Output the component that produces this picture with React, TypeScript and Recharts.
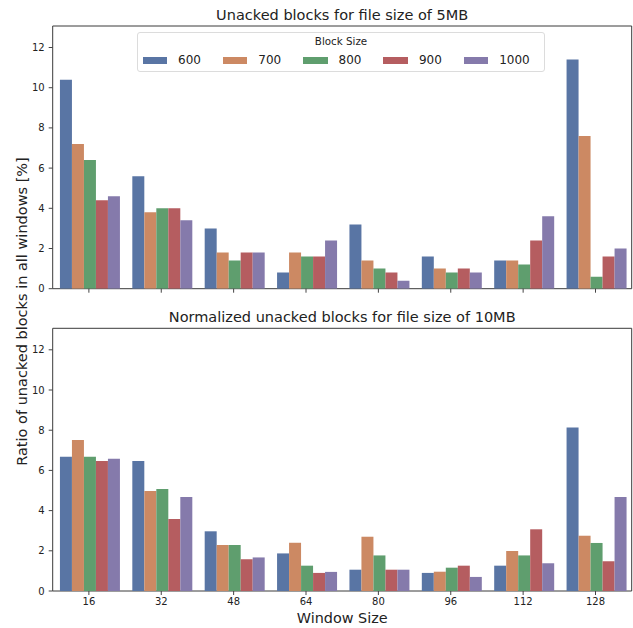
import { Bar, BarChart, Label, Legend, ReferenceArea, XAxis, YAxis } from "recharts";

const FONT = '"DejaVu Sans", sans-serif';

const windowSizes = [16, 32, 48, 64, 80, 96, 112, 128];
const blockSizes = ["600", "700", "800", "900", "1000"];
const colors = ["#5975a4", "#cc8963", "#5f9e6e", "#b55d60", "#857aab"];
const yTicks = [0, 2, 4, 6, 8, 10, 12];

// 5MB file
const unacked5MB_600 = [10.4, 5.6, 3.0, 0.8, 3.2, 1.6, 1.4, 11.4];
const unacked5MB_700 = [7.2, 3.8, 1.8, 1.8, 1.4, 1.0, 1.4, 7.6];
const unacked5MB_800 = [6.4, 4.0, 1.4, 1.6, 1.0, 0.8, 1.2, 0.6];
const unacked5MB_900 = [4.4, 4.0, 1.8, 1.6, 0.8, 1.0, 2.4, 1.6];
const unacked5MB_1000 = [4.6, 3.4, 1.8, 2.4, 0.4, 0.8, 3.6, 2.0];

// 10MB file (normalized)
const unacked10MB_600 = [6.68, 6.47, 2.97, 1.87, 1.06, 0.9, 1.26, 8.13];
const unacked10MB_700 = [7.51, 4.98, 2.29, 2.4, 2.7, 0.96, 1.99, 2.75];
const unacked10MB_800 = [6.68, 5.07, 2.29, 1.26, 1.77, 1.16, 1.77, 2.39];
const unacked10MB_900 = [6.47, 3.58, 1.58, 0.9, 1.06, 1.26, 3.07, 1.48];
const unacked10MB_1000 = [6.58, 4.68, 1.67, 0.95, 1.06, 0.7, 1.38, 4.68];

const Y_MAX = 13.07;

const buildRows = (series: number[][]) =>
  windowSizes.map((w, i) => {
    const row: Record<string, any> = { window: String(w) };
    blockSizes.forEach((b, j) => {
      row[b] = series[j][i];
    });
    return row;
  });

const data5MB = buildRows([
  unacked5MB_600,
  unacked5MB_700,
  unacked5MB_800,
  unacked5MB_900,
  unacked5MB_1000,
]);
const data10MB = buildRows([
  unacked10MB_600,
  unacked10MB_700,
  unacked10MB_800,
  unacked10MB_900,
  unacked10MB_1000,
]);

const renderLegend = () => (
  <div
    style={{
      width: 408,
      height: 40,
      boxSizing: "border-box",
      border: "1px solid #dcdcdc",
      borderRadius: 3,
      background: "rgba(255,255,255,0.85)",
      fontFamily: FONT,
      color: "#222",
    }}
  >
    <div style={{ textAlign: "center", fontSize: 10.3, lineHeight: "13px", marginTop: 2 }}>
      Block Size
    </div>
    <div style={{ display: "flex", paddingLeft: 4.5, marginTop: 5 }}>
      {blockSizes.map((b, i) => (
        <div key={b} style={{ width: 83.3, display: "flex", alignItems: "center" }}>
          <span
            style={{ display: "inline-block", width: 24.5, height: 7, background: colors[i], marginRight: 11 }}
          />
          <span style={{ fontSize: 12, lineHeight: "14px" }}>{b}</span>
        </div>
      ))}
    </div>
  </div>
);

type PanelProps = {
  data: Record<string, any>[];
  height: number;
  marginTop: number;
  marginBottom: number;
  xAxisHeight: number;
  bottomPanel: boolean;
};

const Panel = ({ data, height, marginTop, marginBottom, xAxisHeight, bottomPanel }: PanelProps) => (
  <BarChart
    width={633}
    height={height}
    data={data}
    margin={{ top: marginTop, right: 1.3, left: 0, bottom: marginBottom }}
    barGap={0}
    barCategoryGap="10%"
    style={{ fontFamily: FONT }}
  >
    <XAxis
      dataKey="window"
      interval={0}
      height={xAxisHeight}
      axisLine={false}
      tickSize={4}
      tickMargin={3}
      tickLine={{ stroke: "#444" }}
      tick={{ fill: "#222", fontSize: 10 }}
      tickFormatter={bottomPanel ? undefined : () => ""}
    >
      {bottomPanel && (
        <Label value="Window Size" position="bottom" offset={0} fill="#222" fontSize={14.4} />
      )}
    </XAxis>
    <YAxis
      type="number"
      domain={[0, Y_MAX]}
      ticks={yTicks}
      allowDataOverflow
      width={52.7}
      axisLine={false}
      tickSize={4}
      tickMargin={4}
      tickLine={{ stroke: "#444" }}
      tick={{ fill: "#222", fontSize: 10 }}
    />
    {blockSizes.map((b, i) => (
      <Bar key={b} dataKey={b} fill={colors[i]} isAnimationActive={false} />
    ))}
    <ReferenceArea y1={0} y2={Y_MAX} fill="none" stroke="#3a3a3a" strokeWidth={1} ifOverflow="visible" />
    {!bottomPanel && (
      <Legend
        layout="horizontal"
        align="center"
        verticalAlign="middle"
        content={renderLegend}
        wrapperStyle={{ left: 137, top: 32, width: 408, height: 40 }}
      />
    )}
  </BarChart>
);

export default function App() {
  return (
    <div
      style={{
        position: "absolute",
        left: 0,
        top: 0,
        width: 633,
        height: 628,
        background: "#fff",
        fontFamily: FONT,
      }}
    >
      <div style={{ position: "absolute", left: 0, top: 0 }}>
        <Panel data={data5MB} height={300} marginTop={26} marginBottom={6.3} xAxisHeight={5} bottomPanel={false} />
      </div>
      <div style={{ position: "absolute", left: 0, top: 300 }}>
        <Panel data={data10MB} height={328} marginTop={28.3} marginBottom={15} xAxisHeight={22} bottomPanel />
      </div>
      <svg
        width={633}
        height={628}
        style={{ position: "absolute", left: 0, top: 0, pointerEvents: "none", fontFamily: FONT }}
      >
        <text x={342.2} y={19.5} textAnchor="middle" fontSize={14.5} fill="#222">
          Unacked blocks for file size of 5MB
        </text>
        <text x={342.2} y={322} textAnchor="middle" fontSize={14.5} fill="#222">
          Normalized unacked blocks for file size of 10MB
        </text>
        <text
          x={0}
          y={0}
          transform="translate(22,311.5) rotate(-90)"
          textAnchor="middle"
          dominantBaseline="central"
          fontSize={14.5}
          fill="#222"
        >
          Ratio of unacked blocks in all windows [%]
        </text>
      </svg>
    </div>
  );
}
